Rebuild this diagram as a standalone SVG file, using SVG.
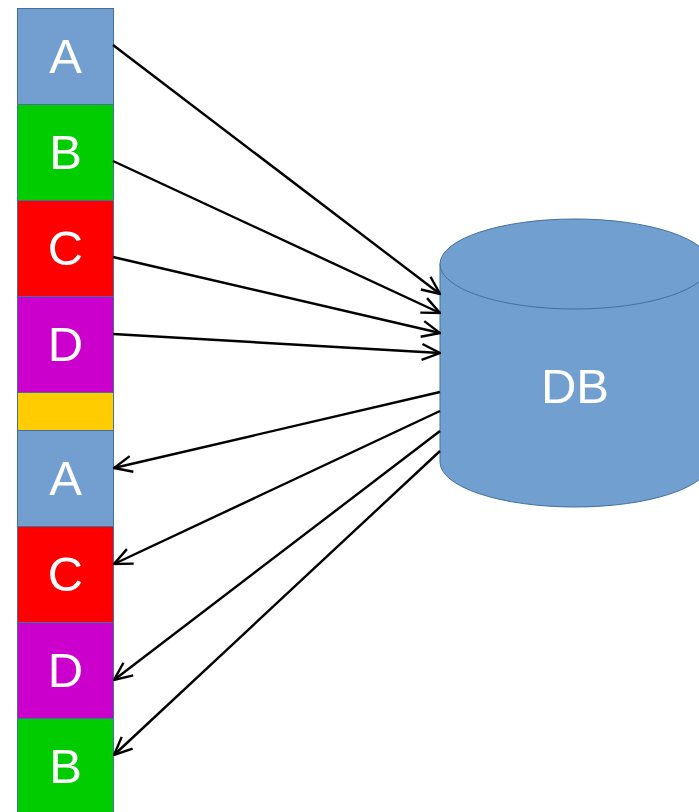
<svg xmlns="http://www.w3.org/2000/svg" width="699" height="812" viewBox="0 0 699 812">
<defs>
<style>
.box{stroke:#41719C;stroke-width:1}
.lbl{font-family:"Liberation Sans",Arial,sans-serif;font-size:49px;fill:#fff;text-anchor:middle;dominant-baseline:central}
.conn{stroke:#000;stroke-width:2.4;fill:none;marker-end:url(#arr)}
.cyl{fill:#71A0D0;stroke:#41719C;stroke-width:1}
</style>
<marker id="arr" viewBox="0 0 22 22" refX="21" refY="11" markerWidth="22" markerHeight="22" markerUnits="userSpaceOnUse" orient="auto">
<path d="M3,3 L21,11 L3,19" fill="none" stroke="#000" stroke-width="2.4"/>
</marker>
</defs>
<rect width="699" height="812" fill="#fff"/>
<g id="a1"><rect class="box" x="17.5" y="8.5" width="96" height="96" fill="#729FCF"/><text class="lbl" x="65.5" y="56">A</text></g>
<g id="b1"><rect class="box" x="17.5" y="104.5" width="96" height="96" fill="#00CC00"/><text class="lbl" x="65.5" y="152">B</text></g>
<g id="c1"><rect class="box" x="17.5" y="200.5" width="96" height="96" fill="#FF0000"/><text class="lbl" x="65.5" y="248">C</text></g>
<g id="d1"><rect class="box" x="17.5" y="296.5" width="96" height="96" fill="#CC00CC"/><text class="lbl" x="65.5" y="344">D</text></g>
<g id="sep"><rect class="box" x="17.5" y="392.5" width="96" height="38" fill="#FFCC00"/></g>
<g id="a2"><rect class="box" x="17.5" y="430.5" width="96" height="96" fill="#729FCF"/><text class="lbl" x="65.5" y="478">A</text></g>
<g id="c2"><rect class="box" x="17.5" y="526.5" width="96" height="96" fill="#FF0000"/><text class="lbl" x="65.5" y="574">C</text></g>
<g id="d2"><rect class="box" x="17.5" y="622.5" width="96" height="96" fill="#CC00CC"/><text class="lbl" x="65.5" y="670">D</text></g>
<g id="b2"><rect class="box" x="17.5" y="718.5" width="96" height="100" fill="#00CC00"/><text class="lbl" x="65.5" y="766">B</text></g>
<g id="db">
<path class="cyl" d="M440,264 L440,462 A135,45 0 0 0 710,462 L710,264 Z"/>
<ellipse class="cyl" cx="575" cy="264" rx="135" ry="45"/>
<text class="lbl" x="575" y="386">DB</text>
</g>
<g id="connectors">
<line class="conn" x1="113" y1="45" x2="440" y2="294"/>
<line class="conn" x1="113" y1="161" x2="440" y2="313"/>
<line class="conn" x1="113" y1="257" x2="440" y2="333"/>
<line class="conn" x1="113" y1="334" x2="440" y2="353"/>
<line class="conn" x1="440" y1="392" x2="114" y2="468"/>
<line class="conn" x1="440" y1="411" x2="114" y2="564"/>
<line class="conn" x1="440" y1="431" x2="114" y2="680"/>
<line class="conn" x1="440" y1="451" x2="114" y2="755"/>
</g>
</svg>
